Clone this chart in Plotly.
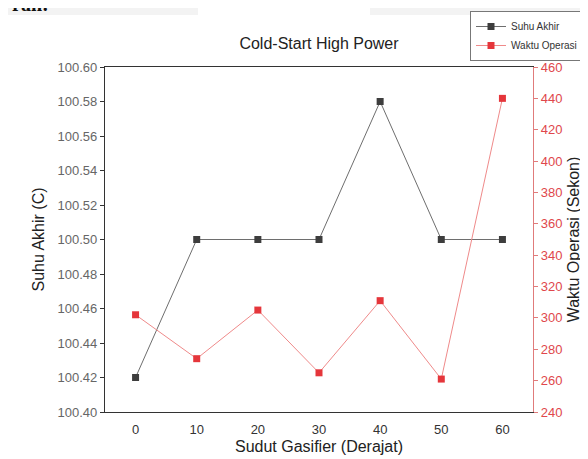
import plotly.graph_objects as go

sudut = [0, 10, 20, 30, 40, 50, 60]
suhu_akhir = [100.42, 100.50, 100.50, 100.50, 100.58, 100.50, 100.50]
waktu_operasi = [302, 274, 305, 265, 311, 261, 440]

left_ticks = [100.40, 100.42, 100.44, 100.46, 100.48, 100.50, 100.52, 100.54, 100.56, 100.58, 100.60]
right_ticks = [240, 260, 280, 300, 320, 340, 360, 380, 400, 420, 440, 460]

FONT = "Liberation Sans, Arial, sans-serif"
W, H = 588, 459
L, R, T, B = 97, 525, 59, 404

fig = go.Figure()
fig.add_trace(go.Scatter(
    x=sudut, y=suhu_akhir, name="Suhu Akhir", mode="lines+markers",
    line=dict(color="#6e6e6e", width=1),
    marker=dict(symbol="square", size=7, color="#3d3d3d"),
    yaxis="y"))
fig.add_trace(go.Scatter(
    x=sudut, y=waktu_operasi, name="Waktu Operasi", mode="lines+markers",
    line=dict(color="#ef8a8a", width=1),
    marker=dict(symbol="square", size=7, color="#e5363b"),
    yaxis="y2"))

# light page fragments above the chart
fig.add_shape(type="rect", xref="paper", yref="paper",
              x0=(0 - L) / (R - L), x1=(190 - L) / (R - L),
              y0=(B - 7) / (B - T), y1=(B - 0) / (B - T),
              fillcolor="#f3f3f3", line=dict(width=0), layer="below")
fig.add_shape(type="rect", xref="paper", yref="paper",
              x0=(362 - L) / (R - L), x1=(588 - L) / (R - L),
              y0=(B - 7) / (B - T), y1=(B - 0) / (B - T),
              fillcolor="#f3f3f3", line=dict(width=0), layer="below")
fig.add_annotation(text="<b>ran:</b>", xref="paper", yref="paper",
                   x=(2 - L) / (R - L), y=(B - 9) / (B - T),
                   xanchor="left", yanchor="bottom", showarrow=False,
                   font=dict(family="Liberation Serif, serif", size=20, color="#111111"))

fig.update_layout(
    width=W, height=H,
    margin=dict(l=L, r=W - R, t=T, b=H - B, autoexpand=False),
    paper_bgcolor="white", plot_bgcolor="white",
    font=dict(family=FONT, color="#222222"),
    title=dict(text="Cold-Start High Power", x=(L + R) / 2 / W, xanchor="center",
               y=1 - 35 / H, yanchor="middle", font=dict(size=16, color="#222222")),
    xaxis=dict(range=[-5, 65], tickvals=sudut, ticktext=[str(v) for v in sudut],
               showgrid=False, zeroline=False, showline=True, linecolor="#333333",
               linewidth=1.2, mirror=True, ticks="", ticklabelstandoff=5,
               tickfont=dict(size=13, color="#333333"),
               title=dict(text="Sudut Gasifier (Derajat)", font=dict(size=16, color="#222222"),
                          standoff=5)),
    yaxis=dict(range=[100.40, 100.60], tickvals=left_ticks,
               ticktext=[f"{v:.2f}" for v in left_ticks],
               showgrid=False, zeroline=False, showline=True, linecolor="#333333",
               linewidth=1.2, ticks="outside", ticklen=4, tickcolor="#333333",
               tickfont=dict(size=13, color="#666666"),
               title=dict(text="Suhu Akhir (C)", font=dict(size=16, color="#222222"),
                          standoff=8)),
    yaxis2=dict(range=[240, 460], tickvals=right_ticks,
                overlaying="y", side="right",
                showgrid=False, zeroline=False, showline=True, linecolor="#e07b7b",
                linewidth=1.2, ticks="outside", ticklen=4, tickcolor="#e07b7b",
                tickfont=dict(size=13, color="#e0474c"),
                title=dict(text="Waktu Operasi (Sekon)", font=dict(size=16, color="#222222"),
                           standoff=6)),
    legend=dict(x=(462 - L) / (R - L), y=(B - 3) / (B - T), xanchor="left", yanchor="top",
                bgcolor="white", bordercolor="#777777", borderwidth=1,
                font=dict(size=10, color="#333333"), tracegroupgap=0,
                itemwidth=30),
    showlegend=True,
)

fig.write_html("out.html")
